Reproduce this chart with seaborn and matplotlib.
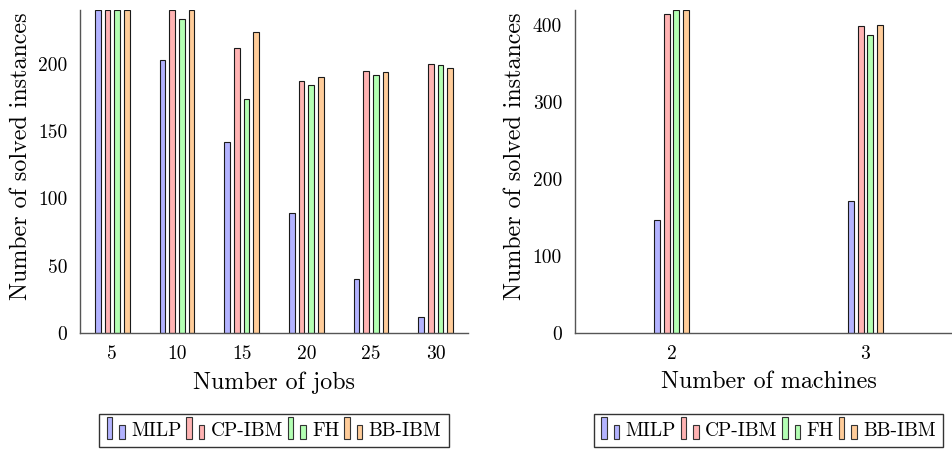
import numpy as np
import pandas as pd
import matplotlib
matplotlib.use("Agg")
import matplotlib.pyplot as plt
import seaborn as sns
from matplotlib.patches import Rectangle
from matplotlib.legend_handler import HandlerBase

# ---- data ----
methods = ["MILP", "CP-IBM", "FH", "BB-IBM"]
jobs = [5, 10, 15, 20, 25, 30]
jobs_milp = [240, 203, 142, 89, 40, 12]
jobs_cp = [240, 240, 212, 187, 195, 200]
jobs_fh = [240, 233, 174, 184, 192, 199]
jobs_bb = [240, 240, 224, 190, 194, 197]

machines = [2, 3]
mach_milp = [147, 171]
mach_cp = [415, 399]
mach_fh = [420, 388]
mach_bb = [420, 400]

colors = ["#b3b3ff", "#ffb3b3", "#b3ffb3", "#ffcc99"]

df_jobs = pd.DataFrame({
    "x": jobs * 4,
    "y": jobs_milp + jobs_cp + jobs_fh + jobs_bb,
    "method": sum([[m] * len(jobs) for m in methods], []),
})
df_mach = pd.DataFrame({
    "x": machines * 4,
    "y": mach_milp + mach_cp + mach_fh + mach_bb,
    "method": sum([[m] * len(machines) for m in methods], []),
})

sns.set_theme(style="white")
plt.rcParams["font.family"] = ["cmr10", "DejaVu Serif"]
plt.rcParams["axes.formatter.use_mathtext"] = True
plt.rcParams["mathtext.fontset"] = "cm"
plt.rcParams["text.color"] = "black"
plt.rcParams["axes.labelcolor"] = "black"

fig = plt.figure(figsize=(9.52, 4.5), dpi=100)
W, H = 952, 450
axL = fig.add_axes([80 / W, (H - 333) / H, 388 / W, 323 / H])
axR = fig.add_axes([574.5 / W, (H - 333) / H, 388 / W, 323 / H])

palette = dict(zip(methods, colors))


class TwoBars(HandlerBase):
    def create_artists(self, legend, orig_handle, xdescent, ydescent,
                       width, height, fontsize, trans):
        fc = orig_handle.get_facecolor()
        bw = width * 0.3
        h1 = height * 1.6
        h2 = height * 1.05
        y0 = -ydescent - height * 0.25
        r1 = Rectangle((-xdescent, y0), bw, h1, facecolor=fc,
                       edgecolor="#333333", linewidth=0.8, transform=trans)
        r2 = Rectangle((-xdescent + width * 0.68, y0), bw, h2, facecolor=fc,
                       edgecolor="#333333", linewidth=0.8, transform=trans)
        return [r1, r2]


def draw(ax, df, xs, width, ylim, xlim, yticks, xlabel):
    sns.barplot(data=df, x="x", y="y", hue="method", hue_order=methods,
                palette=palette, native_scale=True, width=width, gap=0.4,
                errorbar=None, edgecolor="#1a1a1a", linewidth=0.8,
                saturation=1, legend=False, ax=ax)
    ax.set_xlim(*xlim)
    ax.set_ylim(*ylim)
    ax.set_xticks(xs)
    ax.set_xticklabels([str(v) for v in xs])
    ax.set_yticks(yticks)
    ax.set_yticklabels([str(v) for v in yticks])
    ax.tick_params(axis="both", length=0, labelsize=14, pad=9, colors="black")
    for s in ["top", "right"]:
        ax.spines[s].set_visible(False)
    for s in ["left", "bottom"]:
        ax.spines[s].set_color("#555555")
        ax.spines[s].set_linewidth(1.0)
    ax.set_xlabel(xlabel, fontsize=17.3)
    ax.set_ylabel("Number of solved instances", fontsize=17.3)
    ax.xaxis.set_label_coords(0.5, -0.118)
    ax.yaxis.set_label_coords(-0.124, 0.548)
    ax.grid(False)
    handles = [Rectangle((0, 0), 1, 1, facecolor=c) for c in colors]
    leg = ax.legend(handles, methods, handler_map={Rectangle: TwoBars()},
                    loc="center", bbox_to_anchor=(0.5, -0.302), ncol=4,
                    frameon=True, fancybox=False, fontsize=14,
                    handlelength=0.95, handletextpad=0.3, columnspacing=0.25,
                    borderpad=0.4)
    leg.get_frame().set_edgecolor("black")
    leg.get_frame().set_linewidth(1.0)


draw(axL, df_jobs, jobs, 0.6, (0, 240), (2.5, 32.5), [0, 50, 100, 150, 200],
     "Number of jobs")
draw(axR, df_mach, machines, 0.2, (0, 420), (1.5, 3.5), [0, 100, 200, 300, 400],
     "Number of machines")

fig.savefig("out.png", dpi=100)
